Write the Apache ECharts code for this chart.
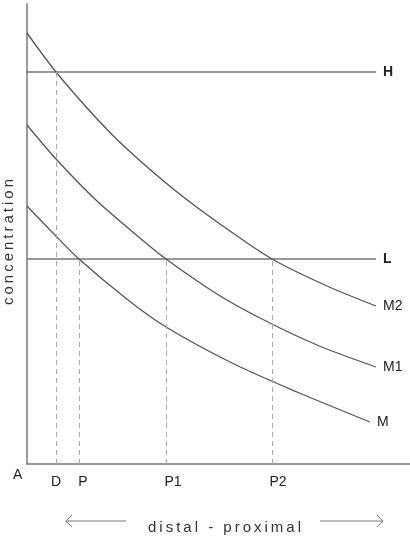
<!DOCTYPE html>
<html>
<head>
<meta charset="utf-8">
<script src="https://cdn.jsdelivr.net/npm/echarts@6/dist/echarts.min.js"></script>
<style>
  html, body { margin: 0; padding: 0; background: #fff; }
  #chart { width: 410px; height: 536px; }
</style>
</head>
<body>
<div id="chart"></div>
<script>
// curves (x: distance from A, y: concentration)
const curveNames = ["M2", "M1", "M"];
const curveM2 = [[0, 431], [29, 392], [71, 344], [100, 315], [150, 272], [200, 235], [245, 205], [300, 178], [349, 158]];
const curveM1 = [[0, 339], [29, 305], [70, 263], [113, 226], [139, 205], [190, 170], [233, 146], [290, 119], [349, 97]];
const curveM = [[0, 258], [25, 232], [52, 205], [101, 164], [139, 137], [205, 101], [270, 72], [343, 42]];

// horizontal thresholds
const levelNames = ["H", "L"];
const levelY = [392, 205];
const levelEndX = 349;

// dashed drops to the axis
const dropNames = ["D", "P", "P1", "P2"];
const dropX = [29, 52, 139, 245];
const dropTop = [392, 205, 205, 205];
const dropShift = [0, 4, 7, 6];

const spaced = (s) => s.split("").join("\u2009");

var myChart = echarts.init(document.getElementById("chart"));

const curveData = [curveM2, curveM1, curveM];
const font = "Liberation Sans, Arial, sans-serif";

var series = curveData.map((d, i) => ({
  name: curveNames[i],
  type: "line",
  data: d,
  smooth: 0.3,
  symbol: "none",
  lineStyle: { color: "#555", width: 1.3 },
  endLabel: {
    show: true,
    formatter: "{a}",
    distance: 7,
    color: "#222",
    fontSize: 14,
    fontFamily: font,
  },
  z: 3,
}));

levelNames.forEach((n, i) => {
  series.push({
    name: n,
    type: "line",
    data: [[0, levelY[i]], [levelEndX, levelY[i]]],
    symbol: "none",
    lineStyle: { color: "#777", width: 1.3 },
    endLabel: {
      show: true,
      formatter: "{a}",
      distance: 7,
      color: "#222",
      fontSize: 14,
      fontWeight: "bold",
      fontFamily: font,
    },
    z: 2,
  });
});

series.push({
  name: "drops",
  type: "line",
  data: [],
  markLine: {
    silent: true,
    symbol: "none",
    lineStyle: { color: "#aaa", type: [5, 4], width: 1 },
    label: {
      position: "start",
      formatter: "{b}",
      color: "#222",
      fontSize: 14,
      fontFamily: font,
      distance: 11,
    },
    data: dropNames.map((n, i) => [
      { name: n, coord: [dropX[i], 0], label: { offset: [dropShift[i], 0] } },
      { coord: [dropX[i], dropTop[i]] },
    ]),
  },
  z: 1,
});

var option = {
  animation: false,
  grid: { left: 27, right: 0, top: 4, bottom: 72, containLabel: false, outerBoundsMode: "none" },
  xAxis: {
    type: "value",
    min: 0,
    max: 383,
    name: spaced("distal - proximal"),
    nameLocation: "middle",
    nameGap: 56,
    nameTextStyle: { color: "#333", fontSize: 15, fontFamily: font, padding: [0, 0, 0, 12] },
    axisLine: { lineStyle: { color: "#777", width: 1.5 } },
    axisTick: { show: false },
    axisLabel: { show: false },
    splitLine: { show: false },
  },
  yAxis: {
    type: "value",
    min: 0,
    max: 460,
    name: spaced("concentration"),
    nameLocation: "middle",
    nameGap: 11,
    nameRotate: 90,
    nameTextStyle: { color: "#333", fontSize: 15, fontFamily: font, padding: [0, 16, 0, 0] },
    axisLine: { show: true, lineStyle: { color: "#777", width: 1.5 } },
    axisTick: { show: false },
    axisLabel: { show: false },
    splitLine: { show: false },
  },
  graphic: [
    {
      type: "text",
      left: 13,
      top: 468,
      style: { text: "A", fill: "#222", font: "14px " + font },
    },
    {
      type: "group",
      silent: true,
      children: [
        { type: "line", shape: { x1: 66, y1: 521, x2: 126, y2: 521 }, style: { stroke: "#777", lineWidth: 1 } },
        { type: "polyline", shape: { points: [[72, 515], [66, 521], [72, 527]] }, style: { stroke: "#777", lineWidth: 1, fill: null } },
        { type: "line", shape: { x1: 320, y1: 521, x2: 383, y2: 521 }, style: { stroke: "#777", lineWidth: 1 } },
        { type: "polyline", shape: { points: [[377, 515], [383, 521], [377, 527]] }, style: { stroke: "#777", lineWidth: 1, fill: null } },
      ],
    },
  ],
  series: series,
};

myChart.setOption(option);
</script>
</body>
</html>
